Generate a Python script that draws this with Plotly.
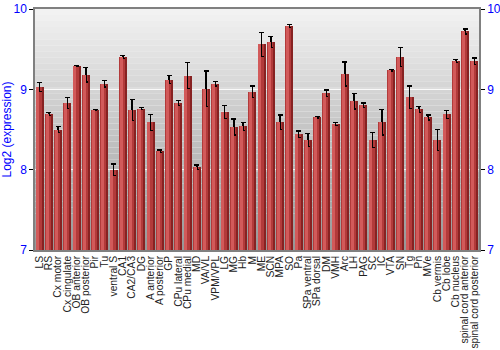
import plotly.graph_objects as go

categories = ["LS", "RS", "Cx motor", "Cx cingulate", "OB anterior", "OB posterior", "Pir", "Tu",
              "ventral S", "CA1", "CA2/CA3", "DG", "A anterior", "A posterior", "GP", "CPu lateral",
              "CPu medial", "MD", "VA/VL", "VPM/VPL", "LG", "MG", "Hb", "M", "ME", "SCN", "MPA", "SO",
              "Pa", "SPa ventral", "SPa dorsal", "DM", "VMH", "Arc", "LH", "PAG", "SC", "IC", "VTA", "SN",
              "Tg", "Pn", "MVe", "Cb vermis", "Cb lobe", "Cb nucleus", "spinal cord anterior",
              "spinal cord posterior"]
values = [9.03, 8.69, 8.50, 8.83, 9.29, 9.18, 8.74, 9.07,
          8.00, 9.40, 8.74, 8.76, 8.59, 8.23, 9.12, 8.83,
          9.17, 8.03, 9.01, 9.07, 8.72, 8.53, 8.54, 8.97, 9.56, 9.59, 8.59, 9.79,
          8.44, 8.37, 8.65, 8.95, 8.57, 9.19, 8.85, 8.80, 8.37, 8.59, 9.24, 9.40,
          8.90, 8.75, 8.65, 8.37, 8.69, 9.35, 9.72, 9.35]
errors = [0.055, 0.02, 0.035, 0.07, 0.01, 0.09, 0.005, 0.04,
          0.07, 0.02, 0.13, 0.01, 0.10, 0.015, 0.05, 0.03,
          0.16, 0.03, 0.22, 0.03, 0.08, 0.10, 0.05, 0.07, 0.15, 0.07, 0.09, 0.02,
          0.04, 0.08, 0.005, 0.04, 0.02, 0.15, 0.095, 0.03, 0.095, 0.16, 0.01, 0.12,
          0.14, 0.04, 0.03, 0.13, 0.05, 0.02, 0.03, 0.04]
y_ticks = [7, 8, 9, 10]

x = list(range(len(categories)))
fig = go.Figure()

# base bar
fig.add_trace(go.Bar(x=x, y=values, width=0.88, offset=-0.44,
                     marker=dict(color="#b23a3a", line=dict(width=0)),
                     error_y=dict(type="data", array=errors, color="#000000", thickness=1.3, width=2.5),
                     hoverinfo="skip", showlegend=False))
# light highlight on left
fig.add_trace(go.Bar(x=x, y=values, width=0.30, offset=-0.34,
                     marker=dict(color="#d25a5a", line=dict(width=0)),
                     hoverinfo="skip", showlegend=False))
# dark edge on right
fig.add_trace(go.Bar(x=x, y=values, width=0.16, offset=0.28,
                     marker=dict(color="#872222", line=dict(width=0)),
                     hoverinfo="skip", showlegend=False))
# invisible trace for right axis
fig.add_trace(go.Scatter(x=[0], y=[7], yaxis="y2", mode="markers",
                         marker=dict(opacity=0), hoverinfo="skip", showlegend=False))

# background gradient
n = 40
shapes = []
top = (0xf2, 0xf2, 0xf2)
bot = (0x98, 0x98, 0x98)
for i in range(n):
    t = i / (n - 1)
    c = tuple(int(round(top[k] + (bot[k] - top[k]) * t)) for k in range(3))
    shapes.append(dict(type="rect", xref="x domain", yref="y domain",
                       x0=0, x1=1, y0=1 - (i + 1) / n, y1=1 - i / n,
                       fillcolor="rgb(%d,%d,%d)" % c, line=dict(width=0), layer="below"))
for v in [8, 9]:
    shapes.append(dict(type="line", xref="x domain", yref="y", x0=0, x1=1, y0=v, y1=v,
                       line=dict(color="rgba(255,255,255,0.85)", width=1.2), layer="below"))

fig.update_layout(
    width=500, height=350,
    margin=dict(l=35, r=21, t=9, b=100),
    paper_bgcolor="white", plot_bgcolor="rgba(0,0,0,0)",
    barmode="overlay", bargap=0,
    shapes=shapes,
    font=dict(family="Liberation Sans, Arial, sans-serif"),
    xaxis=dict(tickmode="array", tickvals=x, ticktext=categories, tickangle=-90,
               tickfont=dict(size=10.3, color="#222222"), range=[-0.5, len(categories) - 0.5],
               showline=True, linecolor="#808080", linewidth=1.5, mirror=True,
               showgrid=False, ticks="", zeroline=False, automargin=False),
    yaxis=dict(range=[7, 10], tickvals=y_ticks, tickfont=dict(size=12, color="#0000ff"),
               title=dict(text="Log2 (expression)", font=dict(size=12, color="#0000ff"), standoff=2),
               showline=True, linecolor="#808080", linewidth=1.5, showgrid=False,
               ticks="outside", ticklen=4, tickcolor="#000000", zeroline=False, automargin=False),
    yaxis2=dict(range=[7, 10], tickvals=y_ticks, overlaying="y", side="right",
                tickfont=dict(size=12, color="#0000ff"),
                showline=True, linecolor="#808080", linewidth=1.5, showgrid=False,
                ticks="outside", ticklen=4, tickcolor="#000000", zeroline=False, automargin=False),
)

fig.write_html("out.html")
